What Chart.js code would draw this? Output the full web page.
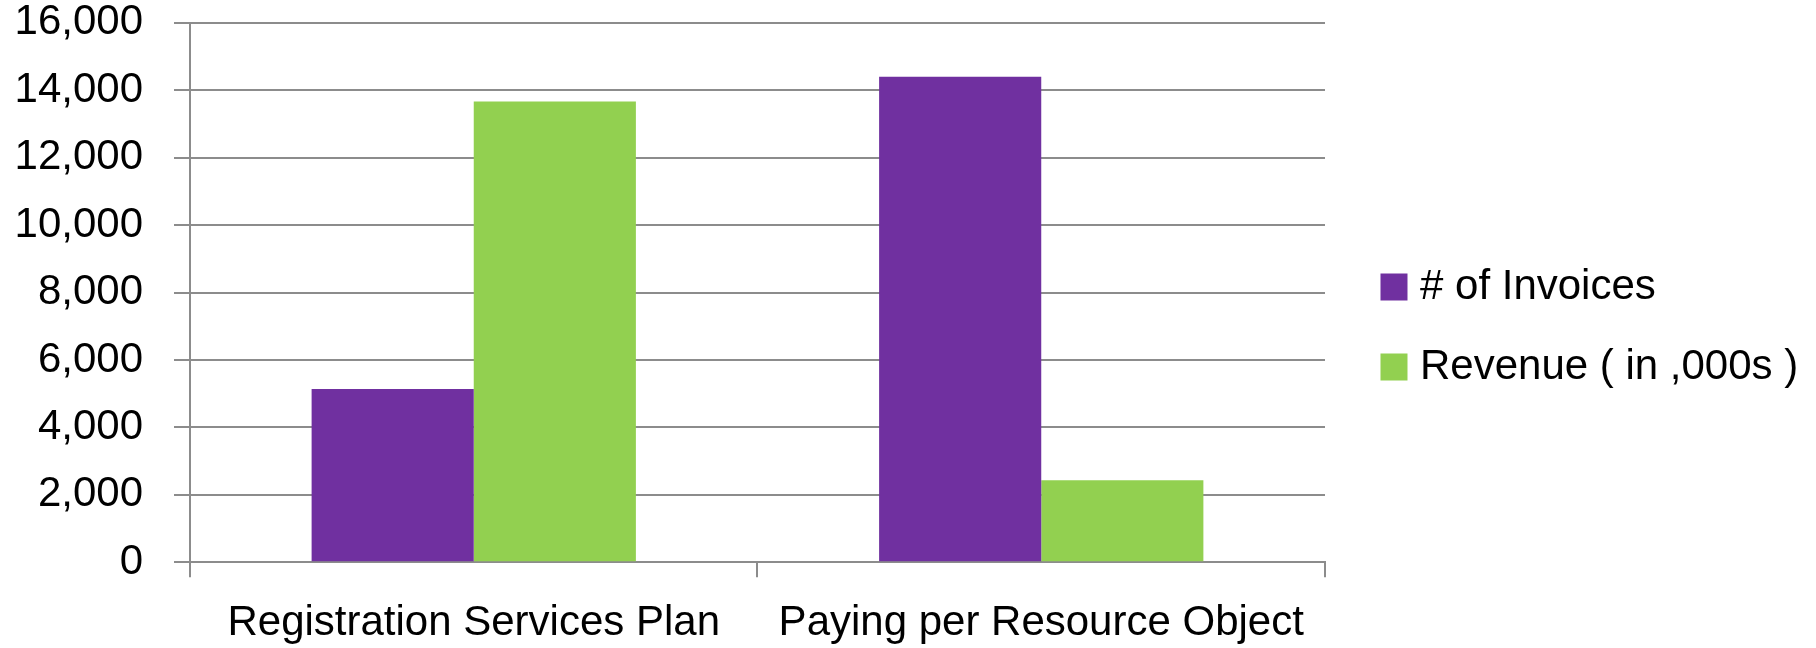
<!DOCTYPE html>
<html>
<head>
<meta charset="utf-8">
<script src="https://cdn.jsdelivr.net/npm/chart.js@4/dist/chart.umd.min.js"></script>
<style>
  html, body { margin: 0; padding: 0; background: #ffffff; }
  #wrap { width: 1816px; height: 648px; }
</style>
</head>
<body>
<div id="wrap"><canvas id="c" width="1816" height="648"></canvas></div>
<script>
// ---- data ----
const categories = ['Registration Services Plan', 'Paying per Resource Object'];
const seriesNames = ['# of Invoices', 'Revenue ( in ,000s )'];
const invoices = [5140, 14400];
const revenue = [13660, 2430];
const yMin = 0;
const yMax = 16000;
const yStep = 2000;

// ---- styles ----
const seriesColors = ['#7030A0', '#92D050'];
const FONT = "'Liberation Sans', Arial, sans-serif";
const GRID = '#8c8c8c';
const FS = 42;

new Chart(document.getElementById('c'), {
  type: 'bar',
  data: {
    labels: categories,
    datasets: [
      { label: seriesNames[0], data: invoices, backgroundColor: seriesColors[0], borderWidth: 0,
        categoryPercentage: 2 / 3.5, barPercentage: 1.0 },
      { label: seriesNames[1], data: revenue, backgroundColor: seriesColors[1], borderWidth: 0,
        categoryPercentage: 2 / 3.5, barPercentage: 1.0 }
    ]
  },
  options: {
    responsive: false,
    devicePixelRatio: 1,
    animation: false,
    layout: { padding: { top: 6, left: 0, right: 7.8, bottom: 0 } },
    plugins: {
      tooltip: { enabled: false },
      legend: {
        position: 'right',
        align: 'center',
        maxWidth: 1000,
        labels: {
          font: { family: FONT, size: FS },
          color: '#000000',
          boxWidth: 10,
          boxHeight: 10,
          padding: 38,
          generateLabels(chart) {
            return chart.data.datasets.map((ds, i) => ({
              text: ds.label,
              fillStyle: ds.backgroundColor,
              strokeStyle: ds.backgroundColor,
              lineWidth: 17,
              lineJoin: 'miter',
              hidden: false,
              datasetIndex: i,
              fontColor: '#000000'
            }));
          }
        }
      }
    },
    scales: {
      x: {
        offset: true,
        grid: { display: true, drawOnChartArea: false, drawTicks: true, tickLength: 15, offset: true, color: GRID, lineWidth: 2 },
        border: { display: true, color: GRID, width: 2 },
        ticks: { font: { family: FONT, size: FS }, color: '#000000', padding: 21, maxRotation: 0, autoSkip: false },
        afterFit(s) { s.height = 85.7; s.paddingLeft = 0; s.paddingRight = 0; }
      },
      y: {
        min: yMin, max: yMax,
        grid: { color: GRID, lineWidth: 2, drawTicks: true, tickLength: 16 },
        border: { display: true, color: GRID, width: 2 },
        ticks: {
          stepSize: yStep,
          font: { family: FONT, size: FS },
          color: '#000000',
          padding: 31,
          callback: (v) => Number(v).toLocaleString('en-US')
        },
        afterFit(s) { s.width = 190; s.paddingTop = 22.7; s.paddingBottom = 0; }
      },
      gap: {
        type: 'linear',
        position: 'right',
        display: true,
        grid: { display: false, drawTicks: false },
        border: { display: false },
        ticks: { display: false },
        afterFit(s) { s.width = 26; s.paddingTop = 0; s.paddingBottom = 0; }
      }
    }
  }
});
</script>
</body>
</html>
